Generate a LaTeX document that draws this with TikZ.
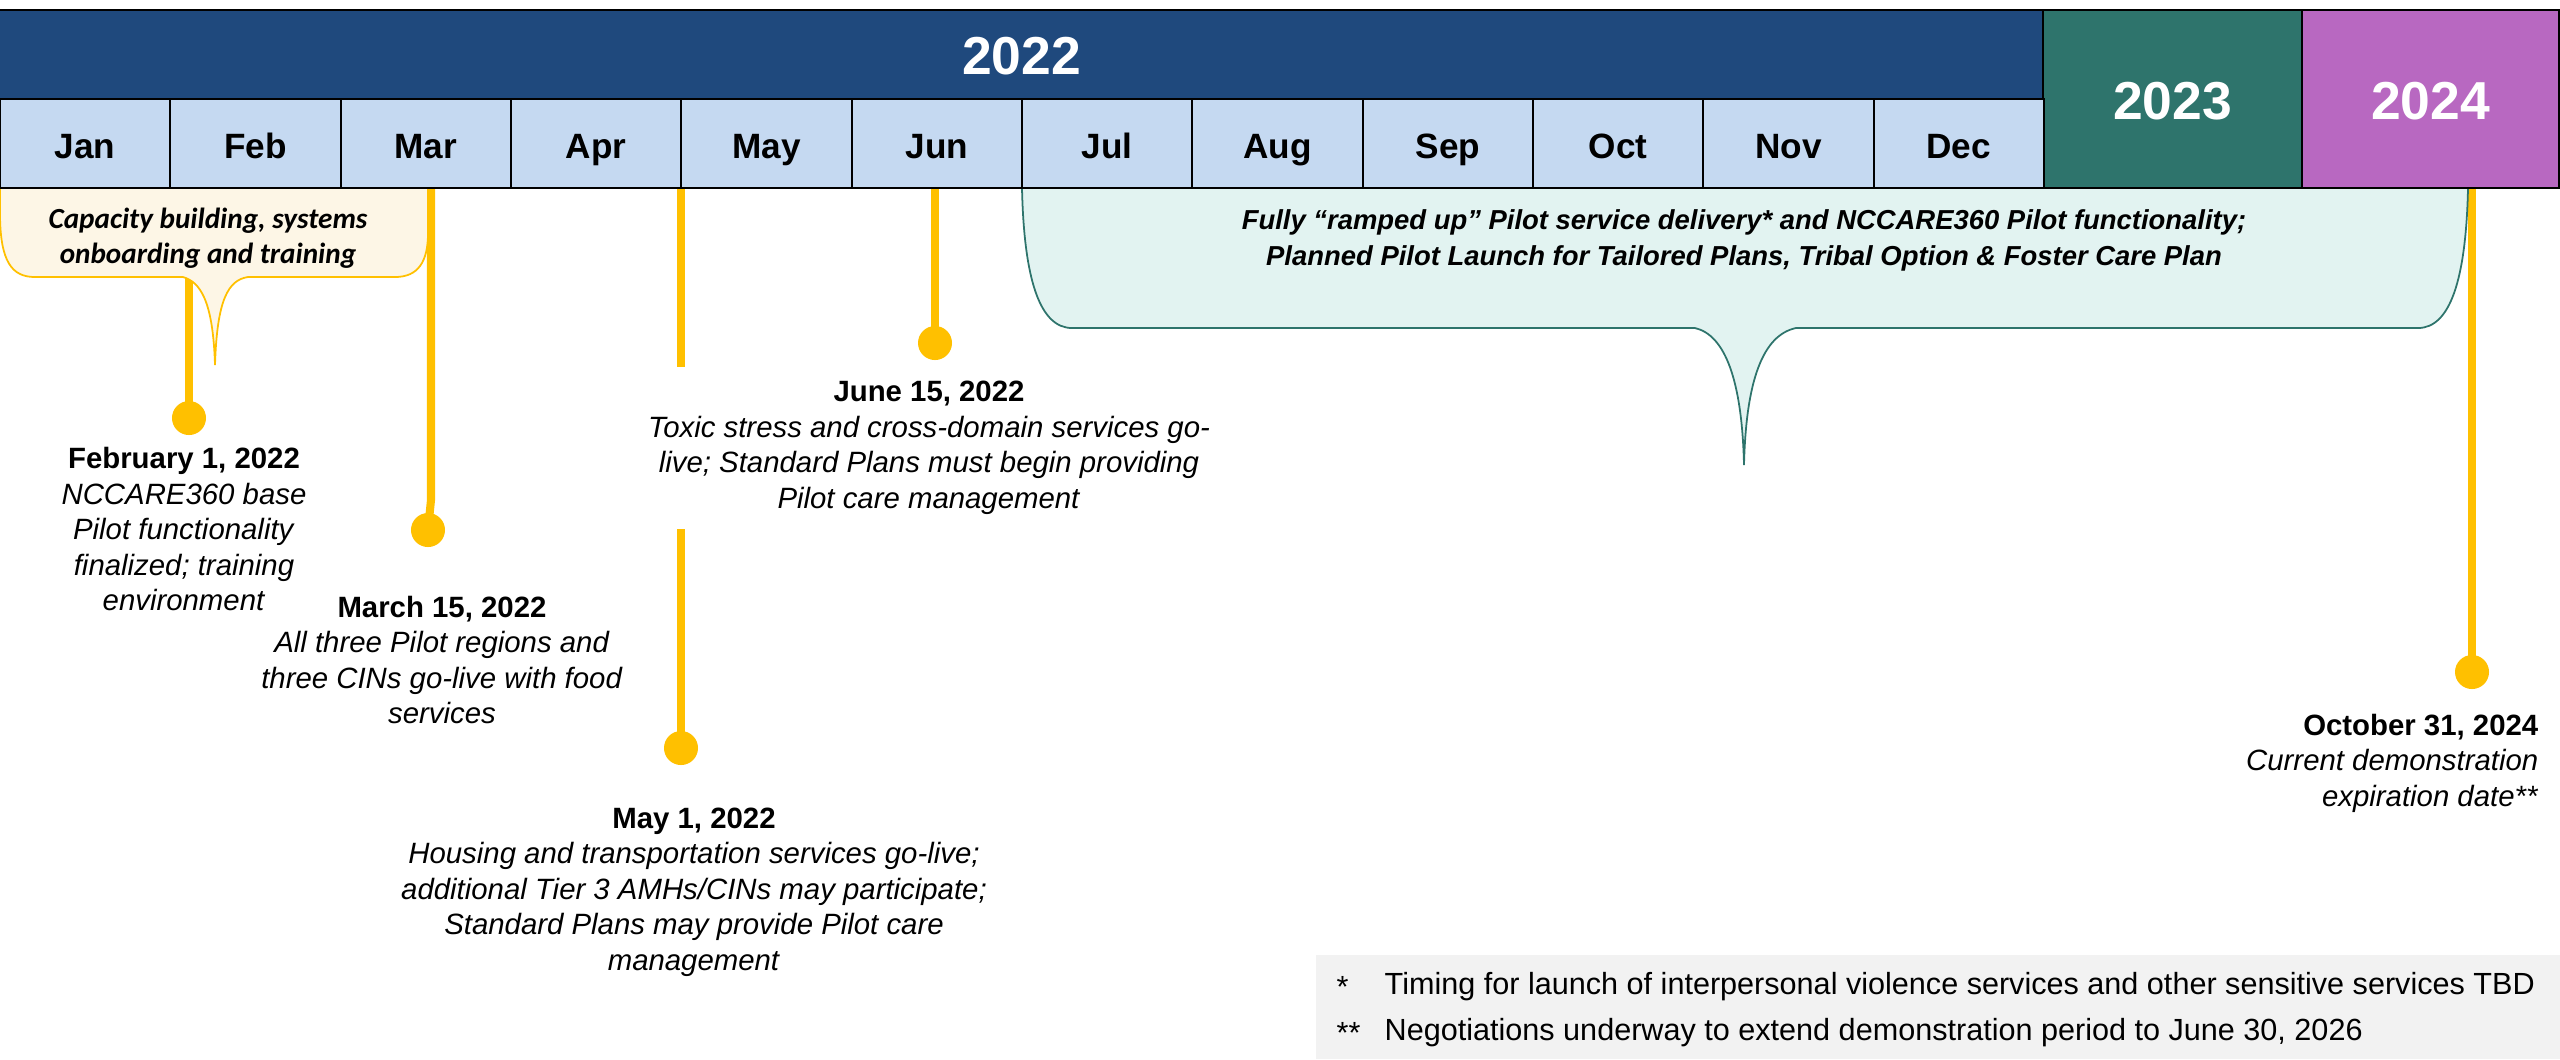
\documentclass[tikz,border=0pt]{standalone}
\usepackage{fontspec}
\setmainfont{Liberation Sans}
\newfontfamily\calfont{Carlito}
\definecolor{bandblue}{HTML}{1F497D}
\definecolor{monthblue}{HTML}{C5D9F1}
\definecolor{yrteal}{HTML}{2E746C}
\definecolor{yrpurple}{HTML}{B868C1}
\definecolor{pilotyellow}{HTML}{FFC000}
\definecolor{cream}{HTML}{FDF6E6}
\definecolor{mint}{HTML}{E2F3F1}
\definecolor{fngray}{HTML}{F2F2F2}
\begin{document}
\begin{tikzpicture}[x=0.01cm,y=-0.01cm,
  yearbox/.style={draw=black, line width=0.6pt, inner sep=0, text=white,
    text height=11.6pt, text depth=0pt,
    font=\bfseries\fontsize{15.2}{18}\selectfont},
  monthbox/.style={draw=black, line width=0.6pt, fill=monthblue, inner sep=0,
    minimum width=1.7033cm, minimum height=0.89cm,
    text height=8.26pt, text depth=0pt,
    font=\bfseries\fontsize{10}{12}\selectfont},
  stem/.style={draw=pilotyellow, line width=2.3pt},
  dot/.style={circle, fill=pilotyellow, minimum size=0.34cm, inner sep=0},
  evtext/.style={align=center, inner sep=0, font=\fontsize{8.35}{10.1}\selectfont},
  calltext/.style={align=center, inner sep=0, font=\calfont\bfseries\itshape\fontsize{8.3}{9.9}\selectfont},
  fntext/.style={anchor=west, inner sep=0, font=\fontsize{8.7}{10}\selectfont}
]
\useasboundingbox (0,0) rectangle (2560,1059);

% ---- footnote box
\fill[fngray] (1316,955) rectangle (2560,1059);
\node[fntext] (fa1) at (1336,987) {*};
\node[fntext] (fb1) at (1384,987) {Timing for launch of interpersonal violence services and other sensitive services TBD};
\node[fntext] (fa2) at (1336,1033) {**};
\node[fntext] (fb2) at (1384,1033) {Negotiations underway to extend demonstration period to June 30, 2026};

% ---- stems and dots
\coordinate (sFeb) at (189,188);
\coordinate (sMar) at (431,188);
\coordinate (sMay) at (681,188);
\coordinate (sMayA) at (681,367);
\coordinate (sMayB) at (681,529);
\coordinate (sJun) at (935,188);
\coordinate (sOct) at (2472,188);
\node[dot] (dFeb) at (189,418) {};
\node[dot] (dMar) at (428,530) {};
\node[dot] (dMay) at (681,748) {};
\node[dot] (dJun) at (935,343) {};
\node[dot] (dOct) at (2472,672) {};
\draw[stem] (sFeb) -- (dFeb.center);
\draw[stem] (sMar) -- (431,500) -- (dMar.center);
\draw[stem] (sMay) -- (sMayA);
\draw[stem] (sMayB) -- (dMay.center);
\draw[stem] (sJun) -- (dJun.center);
\draw[stem] (sOct) -- (dOct.center);

% ---- callout A (capacity building)
\draw[fill=cream, draw=pilotyellow, line width=0.5pt]
  (0,188) -- (0,213) .. controls (0,262) and (12,277) .. (35,277)
  -- (183,277) .. controls (200,282) and (213,300) .. (215,365)
  .. controls (217,300) and (228,280) .. (248,277)
  -- (395,277) .. controls (418,277) and (428,262) .. (428,233)
  -- (428,188) -- cycle;
\node[calltext] (cA) at (208,238) {Capacity building, systems\\onboarding and training};

% ---- callout B (fully ramped up)
\draw[fill=mint, draw=yrteal, line width=0.5pt]
  (1022,188) .. controls (1024,280) and (1040,328) .. (1072,328)
  -- (1695,328) .. controls (1725,335) and (1742,380) .. (1744,465)
  .. controls (1746,380) and (1763,335) .. (1796,328)
  -- (2418,328) .. controls (2450,328) and (2466,280) .. (2468,188)
  -- cycle;
\node[align=center, inner sep=0, font=\bfseries\itshape\fontsize{7.8}{10.2}\selectfont] (cB) at (1744,240)
  {Fully “ramped up” Pilot service delivery* and NCCARE360 Pilot functionality;\\
   Planned Pilot Launch for Tailored Plans, Tribal Option \& Foster Care Plan};

% ---- header bars
\node[yearbox, fill=bandblue, minimum width=20.43cm, minimum height=0.89cm] (y2022) at (1021.5,54.5) {2022};
\node[yearbox, fill=yrteal, minimum width=2.59cm, minimum height=1.78cm] (y2023) at (2172.5,99) {2023};
\node[yearbox, fill=yrpurple, minimum width=2.57cm, minimum height=1.78cm] (y2024) at (2430.5,99) {2024};
\foreach \m [count=\i from 0] in {Jan,Feb,Mar,Apr,May,Jun,Jul,Aug,Sep,Oct,Nov,Dec}{
  \node[monthbox] (m\i) at ({170.33*(\i+0.5)},143.5) {\m};
}

% ---- event texts
\node[evtext] (tFeb) at (184,529) {\textbf{February 1, 2022}\\\textit{NCCARE360 base}\\\textit{Pilot functionality}\\\textit{finalized; training}\\\textit{environment}};
\node[evtext] (tMar) at (442,660) {\textbf{March 15, 2022}\\\textit{All three Pilot regions and}\\\textit{three CINs go-live with food}\\\textit{services}};
\node[evtext] (tJun) at (929,448) {\textbf{June 15, 2022}\\\textit{Toxic stress and cross-domain services go-}\\\textit{live; Standard Plans must begin providing}\\\textit{Pilot care management}};
\node[evtext] (tMay) at (694,892) {\textbf{May 1, 2022}\\\textit{Housing and transportation services go-live;}\\\textit{additional Tier 3 AMHs/CINs may participate;}\\\textit{Standard Plans may provide Pilot care}\\\textit{management}};
\node[evtext, align=right, anchor=east] (tOct) at (2539,763) {\textbf{October 31, 2024}\\\textit{Current demonstration}\\\textit{expiration date**}};
\end{tikzpicture}
\end{document}
